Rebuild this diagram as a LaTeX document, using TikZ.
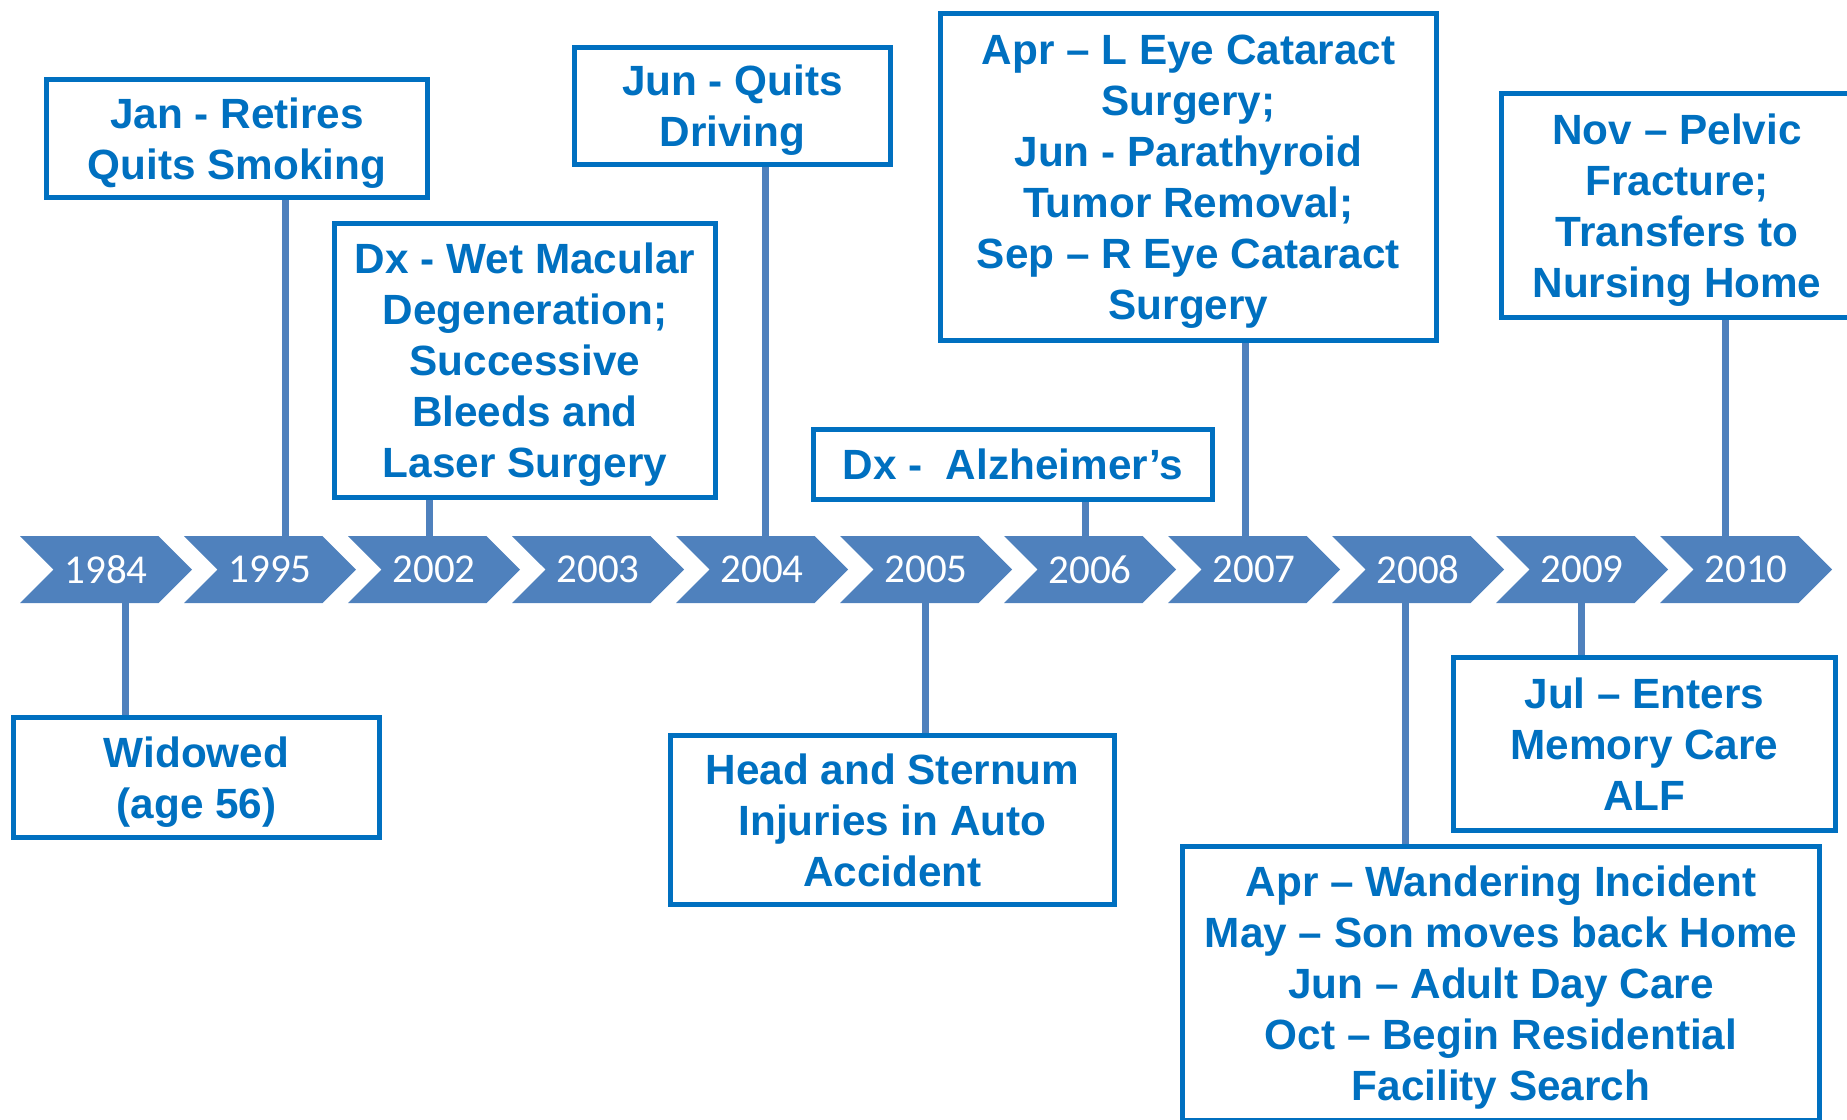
\documentclass[tikz,border=0pt]{standalone}
\usepackage{fontspec}
\usepackage{tikz}
\usetikzlibrary{shapes.symbols}

\newfontfamily\evtfam{Liberation Sans}
\newfontfamily\yrfam{Carlito}
\newcommand{\evtfont}{\evtfam\bfseries\fontsize{42.3}{51}\selectfont}
\newcommand{\yrfont}{\yrfam\fontsize{41}{49}\selectfont}
\definecolor{evtblue}{HTML}{0070C0}
\definecolor{chevblue}{HTML}{4F81BD}

\begin{document}
\begin{tikzpicture}[x=1pt, y=-1pt,
        year/.style={signal, signal from=west, signal to=east, signal pointer angle=90,
            fill=chevblue, text=white, font=\yrfont, inner sep=0pt, outer sep=0pt,
            minimum width=172pt, minimum height=67pt},
        event/.style={draw=evtblue, line width=5pt, text=evtblue, font=\evtfont,
            align=center, inner sep=0pt, text depth=0pt},
        link/.style={draw=chevblue, line width=7pt}]
        \clip (0,0) rectangle (1847,1119);

        % Years
        \node[year] (Y1984) at (106,569.5) {1984};
        \node[year] (Y1995) at (270,569.5) {1995};
        \node[year] (Y2002) at (434,569.5) {2002};
        \node[year] (Y2003) at (598,569.5) {2003};
        \node[year] (Y2004) at (762,569.5) {2004};
        \node[year] (Y2005) at (926,569.5) {2005};
        \node[year] (Y2006) at (1090,569.5) {2006};
        \node[year] (Y2007) at (1254,569.5) {2007};
        \node[year] (Y2008) at (1418,569.5) {2008};
        \node[year] (Y2009) at (1582,569.5) {2009};
        \node[year] (Y2010) at (1746,569.5) {2010};

        % Events above
        \node[event, minimum width=381pt, minimum height=118pt] (Retire) at (237,138.5) {Jan - Retires\\Quits Smoking};
        \node[event, minimum width=381pt, minimum height=274pt] (Macular) at (525,360) {Dx - Wet Macular\\Degeneration;\\Successive\\Bleeds and\\Laser Surgery};
        \node[event, minimum width=316pt, minimum height=117pt] (Driving) at (732.5,106) {Jun - Quits\\Driving};
        \node[event, minimum width=399pt, minimum height=70pt] (Alz) at (1013,464.5) {Dx - \ Alzheimer’s};
        \node[event, minimum width=496pt, minimum height=327pt] (Cataract) at (1188.5,177) {Apr – L Eye Cataract\\Surgery;\\Jun - Parathyroid\\Tumor Removal;\\Sep – R Eye Cataract\\Surgery};
        \node[event, minimum width=351pt, minimum height=224pt] (Pelvic) at (1677,205.5) {Nov – Pelvic\\Fracture;\\Transfers to\\Nursing Home};

        % Events below
        \node[event, minimum width=366pt, minimum height=120pt] (Widowed) at (196.5,777.5) {Widowed\\(age 56)};
        \node[event, minimum width=444pt, minimum height=169pt] (Accident) at (892.5,820) {Head and Sternum\\Injuries in Auto\\Accident};
        \node[event, minimum width=382pt, minimum height=173pt] (Memory) at (1644.5,744) {Jul – Enters\\Memory Care\\ALF};
        \node[event, minimum width=637pt, minimum height=274pt] (Wander) at (1501,983.5) {Apr – Wandering Incident\\May – Son moves back Home\\Jun – Adult Day Care\\Oct – Begin Residential\\Facility Search};

        % Links
        \draw[link] (Y1984.south -| 125,0) -- (Widowed.north -| 125,0);
        \draw[link] (Retire.south -| 285,0) -- (Y1995.north -| 285,0);
        \draw[link] (Macular.south -| 429,0) -- (Y2002.north -| 429,0);
        \draw[link] (Driving.south -| 765,0) -- (Y2004.north -| 765,0);
        \draw[link] (Y2005.south -| 925,0) -- (Accident.north -| 925,0);
        \draw[link] (Alz.south -| 1085,0) -- (Y2006.north -| 1085,0);
        \draw[link] (Cataract.south -| 1245,0) -- (Y2007.north -| 1245,0);
        \draw[link] (Y2008.south -| 1405,0) -- (Wander.north -| 1405,0);
        \draw[link] (Y2009.south -| 1581,0) -- (Memory.north -| 1581,0);
        \draw[link] (Pelvic.south -| 1725,0) -- (Y2010.north -| 1725,0);

    \end{tikzpicture}
\end{document}
